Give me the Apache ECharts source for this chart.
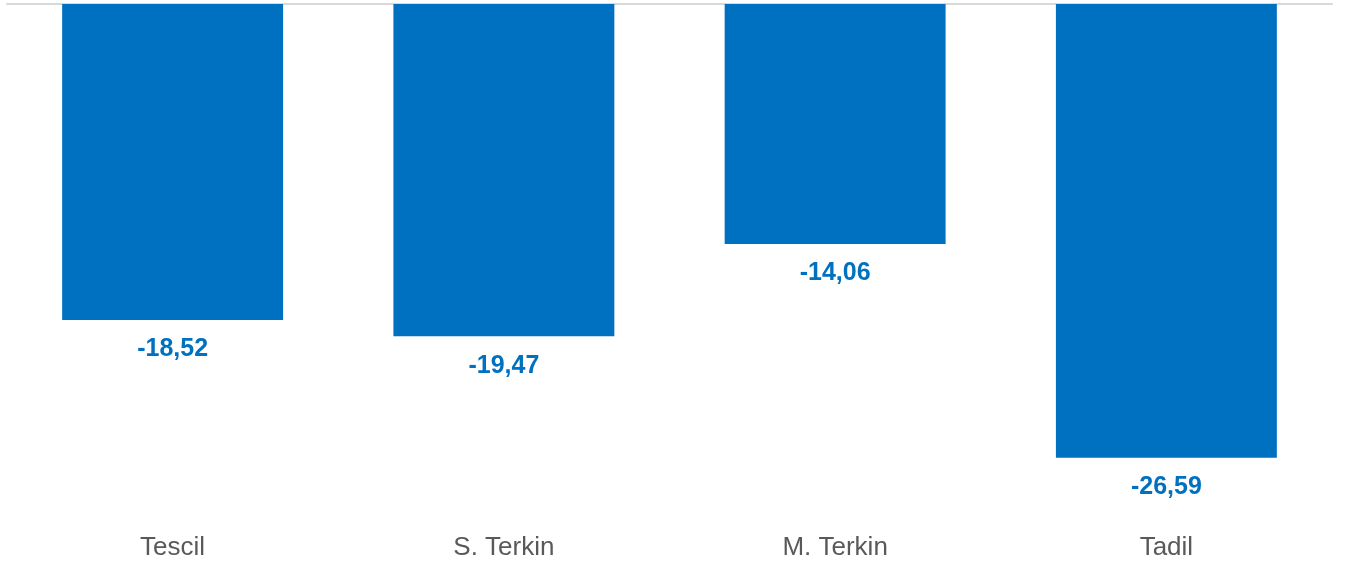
<!DOCTYPE html>
<html>
<head>
<meta charset="utf-8">
<script src="https://cdn.jsdelivr.net/npm/echarts@6/dist/echarts.min.js"></script>
<style>
  html, body { margin: 0; padding: 0; background: #fff; }
  #chart { width: 1347px; height: 564px; }
</style>
</head>
<body>
<div id="chart"></div>
<script>
const chart = echarts.init(document.getElementById("chart"));

const categories = ["Tescil", "S. Terkin", "M. Terkin", "Tadil"];
const values = [-18.52, -19.47, -14.06, -26.59];

const option = {
  animation: false,
  grid: { left: 7, right: 15, top: 4, bottom: 48 },
  xAxis: [
    {
      type: "category",
      data: categories,
      position: "bottom",
      axisLine: { show: false },
      axisTick: { show: false },
      axisLabel: {
        margin: 19,
        fontFamily: "Liberation Sans, Arial",
        fontSize: 26,
        color: "#595959",
      },
    },
    {
      // zero line at the top
      type: "category",
      data: categories,
      position: "top",
      axisLine: { show: true, lineStyle: { color: "#d9d9d9", width: 2 } },
      axisTick: { show: false },
      axisLabel: { show: false },
    },
  ],
  yAxis: {
    type: "value",
    min: -30,
    max: 0,
    axisLabel: { show: false },
    axisLine: { show: false },
    axisTick: { show: false },
    splitLine: { show: false },
  },
  series: [
    {
      type: "bar",
      data: values,
      barWidth: "66.7%",
      itemStyle: { color: "#0070c0" },
      label: {
        show: true,
        position: "bottom",
        distance: 17,
        fontFamily: "Liberation Sans, Arial",
        fontSize: 25,
        fontWeight: "bold",
        color: "#0070c0",
        formatter: (p) => p.value.toFixed(2).replace(".", ","),
      },
    },
  ],
};

chart.setOption(option);
</script>
</body>
</html>
